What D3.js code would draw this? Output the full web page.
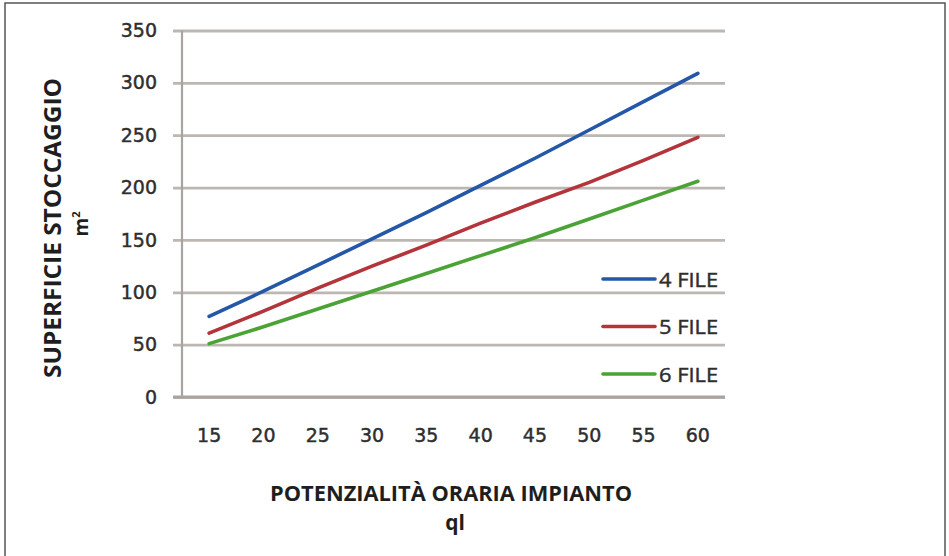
<!DOCTYPE html>
<html>
<head>
<meta charset="utf-8">
<script src="https://cdn.jsdelivr.net/npm/d3@7"></script>
<style>
  html, body { margin: 0; padding: 0; background: #fff; }
  svg { display: block; }
</style>
</head>
<body>
<svg id="chart" width="949" height="556"></svg>
<script>
const categories = [15, 20, 25, 30, 35, 40, 45, 50, 55, 60];
const file4 = [77, 101, 126, 151, 176, 202, 228, 255, 282, 309];
const file5 = [61, 82, 104, 125, 145, 166, 186, 205, 226, 248];
const file6 = [51, 67, 84, 101, 118, 135, 152, 170, 188, 206];
const yTicks = [0, 50, 100, 150, 200, 250, 300, 350];
const seriesNames = ["4 FILE", "5 FILE", "6 FILE"];
const seriesColors = ["#2457a8", "#b3343a", "#4ba336"];
const xTitle = "POTENZIALITÀ ORARIA IMPIANTO";
const xUnit = "ql";
const yTitle = "SUPERFICIE STOCCAGGIO";

const series = [file4, file5, file6];
const svg = d3.select("#chart");

// outer frame
svg.append("rect")
  .attr("x", 5).attr("y", 3).attr("width", 940).attr("height", 600)
  .attr("fill", "none").attr("stroke", "#555").attr("stroke-width", 1.5);

const x = d3.scaleBand().domain(categories).range([182, 725]).padding(0);
const y = d3.scaleLinear().domain([0, 350]).range([397, 30.5]);

const tickFont = "DejaVu Sans, Verdana, sans-serif";

function heavy(sel) {
  sel.attr("fill", "#2e2e2e").attr("stroke", "#2e2e2e").attr("stroke-width", 0.45);
}

// gridlines + y labels
const gy = svg.append("g")
  .attr("transform", "translate(173,0)")
  .call(d3.axisLeft(y).tickValues(yTicks).tickSize(-(725 - 173)).tickPadding(16));
gy.select(".domain").remove();
gy.selectAll(".tick line")
  .attr("stroke", "#bcb7b2").attr("stroke-width", 2.8);
gy.selectAll(".tick text")
  .attr("font-family", tickFont).attr("font-size", 19).call(heavy);

// vertical axis line
svg.append("line")
  .attr("x1", 182).attr("x2", 182)
  .attr("y1", y(350)).attr("y2", y(0))
  .attr("stroke", "#a9a49f").attr("stroke-width", 2.2);

// x axis
const gx = svg.append("g")
  .attr("transform", `translate(0,${y(0)})`)
  .call(d3.axisBottom(x).tickSize(0).tickPadding(31.5));
gx.select(".domain").attr("stroke", "#a9a49f").attr("stroke-width", 2.8)
  .attr("d", `M173,0H725`);
gx.selectAll(".tick text")
  .attr("font-family", tickFont).attr("font-size", 19).call(heavy);

// lines
const line = d3.line()
  .x((d, i) => x(categories[i]) + x.bandwidth() / 2)
  .y(d => y(d));

series.forEach((s, k) => {
  svg.append("path")
    .datum(s)
    .attr("d", line)
    .attr("fill", "none")
    .attr("stroke", seriesColors[k])
    .attr("stroke-width", 3.6)
    .attr("stroke-linecap", "round")
    .attr("stroke-linejoin", "round");
});

// legend
const legY = [279, 326.5, 374];
seriesNames.forEach((name, k) => {
  svg.append("line")
    .attr("x1", 603).attr("x2", 655)
    .attr("y1", legY[k]).attr("y2", legY[k])
    .attr("stroke", seriesColors[k]).attr("stroke-width", 3.6)
    .attr("stroke-linecap", "round");
  svg.append("text")
    .attr("x", 659).attr("y", legY[k] + 7.5)
    .attr("font-family", "Open Sans, sans-serif")
    .attr("font-size", 20)
    .attr("textLength", 59)
    .attr("lengthAdjust", "spacingAndGlyphs")
    .call(heavy)
    .text(name);
});

// x title
svg.append("text")
  .attr("x", 451).attr("y", 501)
  .attr("text-anchor", "middle")
  .attr("font-family", "Open Sans, sans-serif")
  .attr("font-weight", "bold")
  .attr("font-size", 21.5)
  .attr("fill", "#1e1e1e")
  .attr("textLength", 362)
  .attr("lengthAdjust", "spacingAndGlyphs")
  .text(xTitle);
svg.append("text")
  .attr("x", 455).attr("y", 530)
  .attr("text-anchor", "middle")
  .attr("font-family", "Open Sans, sans-serif")
  .attr("font-weight", "bold")
  .attr("font-size", 21)
  .attr("fill", "#1e1e1e")
  .text(xUnit);

// y title
svg.append("text")
  .attr("transform", "translate(61,228) rotate(-90)")
  .attr("text-anchor", "middle")
  .attr("font-family", "Open Sans, sans-serif")
  .attr("font-weight", "bold")
  .attr("font-size", 23)
  .attr("fill", "#1e1e1e")
  .attr("textLength", 300)
  .attr("lengthAdjust", "spacingAndGlyphs")
  .text(yTitle);
const mt = svg.append("text")
  .attr("transform", "translate(88,224) rotate(-90)")
  .attr("text-anchor", "middle")
  .attr("font-family", "Open Sans, sans-serif")
  .attr("font-weight", "bold")
  .attr("font-size", 19)
  .attr("fill", "#1e1e1e");
mt.append("tspan").text("m");
mt.append("tspan").attr("font-size", 11).attr("dy", -8).text("2");
</script>
</body>
</html>
